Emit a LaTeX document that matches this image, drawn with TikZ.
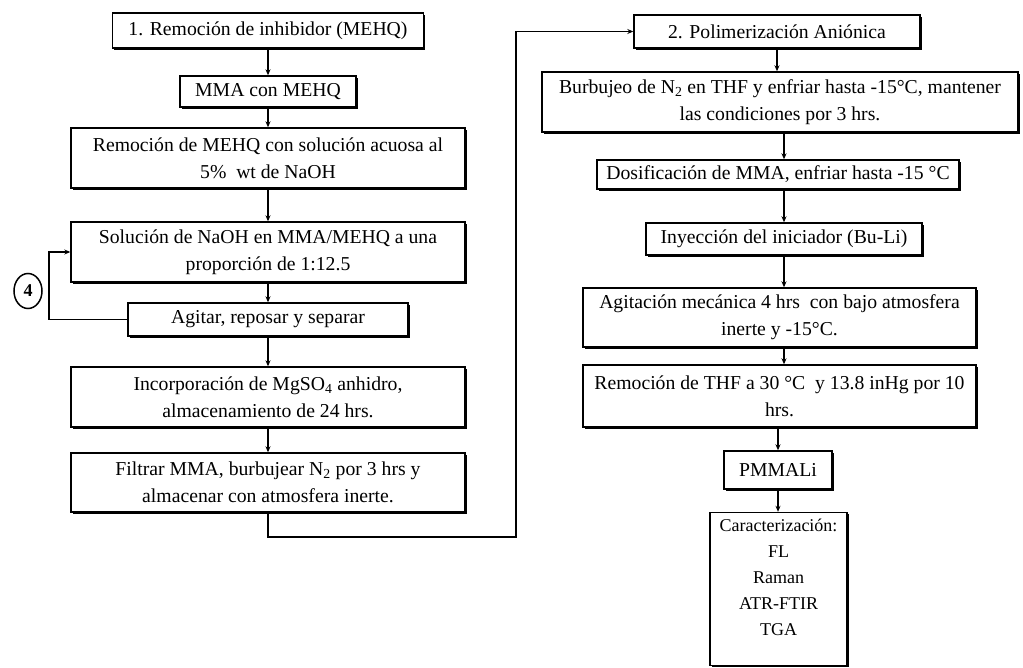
\documentclass[tikz,border=0pt]{standalone}
\usepackage{fontspec}
\setmainfont{Liberation Serif}
\usetikzlibrary{arrows.meta,shadows,shapes.geometric}
\begin{document}
\begin{tikzpicture}[x=1pt,y=-1pt,
  box/.style={draw=black, line width=1.4pt, fill=white, inner sep=0pt, align=center,
    font=\fontsize{19.7}{27}\selectfont,
    drop shadow={shadow xshift=1.8pt, shadow yshift=-1.8pt, fill=black, opacity=1}},
  txt/.style={inner sep=0pt, align=center, font=\fontsize{18}{26}\selectfont},
  arr/.style={line width=1.6pt, -{Stealth[length=6pt,width=5pt]}},
  lnk/.style={line width=1.8pt}]
\useasboundingbox (0,0) rectangle (1023,668);
\fill[white] (0,0) rectangle (1023,668);
% left column
\node[box, minimum width=311, minimum height=35] (b1) at (268,30.5) {1. Remoción de inhibidor (MEHQ)};
\node[box, minimum width=176, minimum height=31] (b2) at (268,91.5) {MMA con MEHQ};
\node[box, minimum width=394, minimum height=60] (b3) at (268,158) {Remoción de MEHQ con solución acuosa al\\5\%~ wt de NaOH};
\node[box, minimum width=394, minimum height=60] (b4) at (268,252) {Solución de NaOH en MMA/MEHQ a una\\proporción de 1:12.5};
\node[box, minimum width=280, minimum height=33] (b5) at (268,319.5) {Agitar, reposar y separar};
\node[box, minimum width=394, minimum height=60] (b6) at (268,397) {Incorporación de MgSO\textsubscript{4} anhidro,\\almacenamiento de 24 hrs.};
\node[box, minimum width=394, minimum height=59] (b7) at (268,482.5) {Filtrar MMA, burbujear N\textsubscript{2} por 3 hrs y\\almacenar con atmosfera inerte.};
% right column
\node[box, minimum width=286, minimum height=33] (b8) at (777,31.5) {2. Polimerización Aniónica};
\node[box, minimum width=476, minimum height=60] (b9) at (780,102) {Burbujeo de N\textsubscript{2} en THF y enfriar hasta -15°C, mantener\\las condiciones por 3 hrs.};
\node[box, minimum width=362, minimum height=29] (b10) at (778,174.5) {Dosificación de MMA, enfriar hasta -15 °C};
\node[box, minimum width=276, minimum height=32] (b11) at (784,239) {Inyección del iniciador (Bu-Li)};
\node[box, minimum width=393, minimum height=59] (b12) at (779.5,317.5) {Agitación mecánica 4 hrs~ con bajo atmosfera\\inerte y -15°C.};
\node[box, minimum width=393, minimum height=62] (b13) at (779.5,396) {Remoción de THF a 30 °C~ y 13.8 inHg por 10\\hrs.};
\node[box, minimum width=108, minimum height=38] (b14) at (778,470) {PMMALi};
\node[box, minimum width=137, minimum height=153] (b15) at (778.5,589) {};
\node[txt, anchor=north] (b15t) at ([yshift=-7pt]b15.north) {Caracterización:\\FL\\Raman\\ATR-FTIR\\TGA};
% circled 4
\node[draw=black, line width=1.5pt, ellipse, minimum width=28, minimum height=35, inner sep=0pt,
  font=\fontsize{18}{20}\selectfont\bfseries] (c4) at (28,291) {4};
% left arrows
\draw[arr] (b1.south) -- (b2.north);
\draw[arr] (b2.south) -- (b3.north);
\draw[arr] (b3.south) -- (b4.north);
\draw[arr] (b4.south) -- (b5.north);
\draw[arr] (b5.south) -- (b6.north);
\draw[arr] (b6.south) -- (b7.north);
% loop
\coordinate (lp) at (49,0);
\draw[arr] (b5.west) -- (b5.west -| lp) -- (b4.west -| lp) -- (b4.west);
% link between columns
\coordinate (d1) at (268,537);
\coordinate (d2) at (516,537);
\draw[lnk] (b7.south) -- (d1) -- (d2) -- (d2 |- b8.west);
\draw[line width=1pt, -{Stealth[length=6pt,width=5pt]}] (d2 |- b8.west) -- (b8.west);
% right arrows
\draw[arr] (b8.south) -- (b8.south |- b9.north);
\draw[arr] (b9.south -| b11.center) -- (b10.north -| b11.center);
\draw[arr] (b10.south -| b11.center) -- (b11.north);
\draw[arr] (b11.south) -- (b11.south |- b12.north);
\draw[arr] (b12.south -| b11.center) -- (b13.north -| b11.center);
\draw[arr] (b13.south -| b14.center) -- (b14.north);
\draw[arr] (b14.south) -- (b14.south |- b15.north);
\end{tikzpicture}
\end{document}
